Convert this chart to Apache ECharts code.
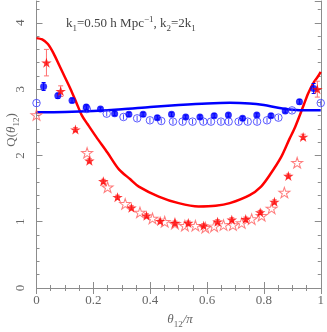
<!DOCTYPE html>
<html>
<head>
<meta charset="utf-8">
<script src="https://cdn.jsdelivr.net/npm/echarts@6/dist/echarts.min.js"></script>
<style>
  html, body { margin: 0; padding: 0; background: #fff; }
  #chart { width: 327px; height: 332px; }
</style>
</head>
<body>
<div id="chart"></div>
<script>
// model curves
const redCurveX = [0, 0.02, 0.04, 0.06, 0.08, 0.10, 0.12, 0.14, 0.16, 0.18, 0.21, 0.25, 0.29, 0.33, 0.36, 0.43, 0.50, 0.57, 0.63, 0.68, 0.75, 0.79, 0.82, 0.86, 0.89, 0.91, 0.94, 0.956, 0.975, 0.99, 1.0]
const redCurveY = [3.77, 3.75, 3.68, 3.54, 3.36, 3.18, 3.00, 2.80, 2.60, 2.47, 2.28, 2.04, 1.79, 1.64, 1.53, 1.38, 1.28, 1.23, 1.24, 1.28, 1.40, 1.53, 1.70, 1.97, 2.25, 2.43, 2.76, 2.94, 3.10, 3.19, 3.26]
const blueCurveX = [0, 0.1, 0.2, 0.3, 0.4, 0.5, 0.6, 0.68, 0.75, 0.8, 0.85, 0.9, 0.95, 1.0]
const blueCurveY = [2.65, 2.655, 2.67, 2.695, 2.73, 2.76, 2.785, 2.795, 2.785, 2.76, 2.72, 2.69, 2.68, 2.68]

// blue filled circles
const blueFillX = [0.025, 0.075, 0.125, 0.175, 0.225, 0.275, 0.325, 0.375, 0.425, 0.475, 0.525, 0.575, 0.625, 0.675, 0.725, 0.775, 0.825, 0.875, 0.925, 0.975]
const blueFillY = [3.04, 2.90, 2.83, 2.73, 2.70, 2.63, 2.62, 2.62, 2.57, 2.62, 2.58, 2.58, 2.60, 2.61, 2.56, 2.61, 2.60, 2.67, 2.81, 3.01]
const blueFillErr = [0.06, 0.04, 0.035, 0.035, 0.03, 0.03, 0.03, 0.03, 0.03, 0.03, 0.03, 0.03, 0.03, 0.03, 0.03, 0.03, 0.03, 0.03, 0.035, 0.075]

// blue open circles
const blueOpenX = [0, 0.177, 0.247, 0.306, 0.354, 0.399, 0.439, 0.48, 0.514, 0.549, 0.587, 0.614, 0.649, 0.676, 0.711, 0.743, 0.776, 0.811, 0.851, 0.899, 1.0]
const blueOpenY = [2.79, 2.70, 2.63, 2.58, 2.56, 2.53, 2.52, 2.51, 2.51, 2.51, 2.51, 2.51, 2.51, 2.51, 2.51, 2.51, 2.51, 2.53, 2.57, 2.68, 2.79]

// red filled stars
const redFillX = [0.035, 0.085, 0.137, 0.186, 0.235, 0.285, 0.334, 0.387, 0.435, 0.487, 0.534, 0.588, 0.637, 0.687, 0.736, 0.787, 0.837, 0.886, 0.938, 0.988]
const redFillY = [3.40, 2.97, 2.39, 1.92, 1.61, 1.37, 1.21, 1.09, 1.01, 0.98, 0.98, 0.94, 1.00, 1.03, 1.04, 1.14, 1.30, 1.69, 2.28, 3.00]
const redFillErr = [0.20, 0.08, 0.03, 0.03, 0.03, 0.03, 0.03, 0.03, 0.03, 0.03, 0.03, 0.03, 0.03, 0.03, 0.03, 0.03, 0.03, 0.03, 0.04, 0.12]

// red open stars
const redOpenX = [0, 0.178, 0.25, 0.312, 0.364, 0.408, 0.451, 0.487, 0.522, 0.559, 0.594, 0.625, 0.658, 0.691, 0.722, 0.757, 0.792, 0.827, 0.872, 0.917]
const redOpenY = [2.61, 2.04, 1.52, 1.27, 1.14, 1.05, 1.00, 0.97, 0.94, 0.94, 0.91, 0.93, 0.95, 0.95, 0.98, 1.04, 1.09, 1.20, 1.44, 1.89]

const yMax = 4.33
const axisGray = '#8c8c8c'
const labelGray = '#666'
const serif = 'Liberation Serif'
const star = 'path://M0 -100L22.45 -30.9L95.1 -30.9L36.3 11.8L58.8 80.9L0 38.2L-58.8 80.9L-36.3 11.8L-95.1 -30.9L-22.45 -30.9Z'

const zip = (xs, ys) => xs.map((x, i) => [x, ys[i]])

function errorBars (xs, ys, errs, color, cap) {
  return {
    type: 'custom',
    silent: true,
    z: 3,
    data: xs.map((x, i) => [x, ys[i] - errs[i], ys[i] + errs[i]]),
    encode: { x: 0, y: [1, 2] },
    renderItem: (params, api) => {
      const lo = api.coord([api.value(0), api.value(1)])
      const hi = api.coord([api.value(0), api.value(2)])
      const style = { stroke: color, lineWidth: 1 }
      const kids = [{ type: 'line', shape: { x1: lo[0], y1: lo[1], x2: hi[0], y2: hi[1] }, style }]
      if (cap) {
        kids.push({ type: 'line', shape: { x1: lo[0] - cap, y1: lo[1], x2: lo[0] + cap, y2: lo[1] }, style })
        kids.push({ type: 'line', shape: { x1: hi[0] - cap, y1: hi[1], x2: hi[0] + cap, y2: hi[1] }, style })
      }
      return { type: 'group', children: kids }
    },
  }
}

function yAxisDef (position, major) {
  return {
    type: 'value', position, min: 0, max: yMax,
    interval: major ? 1 : 0.2,
    axisLine: { show: major, lineStyle: { color: axisGray, width: 1 } },
    axisTick: { inside: true, length: major ? 6 : 3, lineStyle: { color: axisGray } },
    axisLabel: {
      show: major && position === 'left', rotate: 90, margin: 9, showMaxLabel: false,
      color: labelGray, fontFamily: serif, fontSize: 13,
    },
    splitLine: { show: false },
  }
}

function xAxisDef (position) {
  return {
    type: 'value', position, min: 0, max: 1, interval: 0.2,
    axisLine: { lineStyle: { color: axisGray, width: 1 } },
    axisTick: { inside: true, length: 6, lineStyle: { color: axisGray } },
    minorTick: { show: true, splitNumber: 4, length: 3, lineStyle: { color: axisGray } },
    axisLabel: {
      show: position === 'bottom', margin: 6,
      color: labelGray, fontFamily: serif, fontSize: 13,
      formatter: (v) => String(+v.toFixed(1)),
    },
    splitLine: { show: false },
  }
}

const chart = echarts.init(document.getElementById('chart'))

chart.setOption({
  animation: false,
  grid: { left: 36.5, right: 4.3, top: 1, bottom: 44 },
  xAxis: [xAxisDef('bottom'), xAxisDef('top')],
  yAxis: [yAxisDef('left', true), yAxisDef('left', false), yAxisDef('right', true), yAxisDef('right', false)],
  graphic: [
    {
      type: 'text', left: 66, top: 15,
      style: {
        text: '{t|k}{s|1}{t|=0.50 h Mpc}{p|\u22121}{t|, k}{s|2}{t|=2k}{s|1}',
        rich: {
          t: { fontFamily: serif, fontSize: 13, fill: '#444', lineHeight: 18, verticalAlign: 'middle' },
          s: { fontFamily: serif, fontSize: 9, fill: '#444', lineHeight: 9, verticalAlign: 'bottom' },
          p: { fontFamily: serif, fontSize: 9, fill: '#444', lineHeight: 9, verticalAlign: 'top' },
        },
      },
    },
    {
      type: 'text', x: 180, y: 320,
      style: {
        text: '{i|\u03b8}{s|12}{t|/\u03c0}',
        align: 'center', verticalAlign: 'middle',
        rich: {
          i: { fontFamily: serif, fontStyle: 'italic', fontSize: 13, fill: labelGray, lineHeight: 18, verticalAlign: 'middle' },
          t: { fontFamily: serif, fontStyle: 'italic', fontSize: 13, fill: labelGray, lineHeight: 18, verticalAlign: 'middle' },
          s: { fontFamily: serif, fontSize: 9, fill: labelGray, lineHeight: 9, verticalAlign: 'bottom' },
        },
      },
    },
    {
      type: 'text', x: 12, y: 130, rotation: Math.PI / 2,
      style: {
        text: '{t|Q(}{i|\u03b8}{s|12}{t|)}',
        align: 'center', verticalAlign: 'middle',
        rich: {
          t: { fontFamily: serif, fontSize: 13, fill: labelGray, lineHeight: 18, verticalAlign: 'middle' },
          i: { fontFamily: serif, fontStyle: 'italic', fontSize: 13, fill: labelGray, lineHeight: 18, verticalAlign: 'middle' },
          s: { fontFamily: serif, fontSize: 9, fill: labelGray, lineHeight: 9, verticalAlign: 'bottom' },
        },
      },
    },
  ],
  series: [
    {
      type: 'line', data: zip(redCurveX, redCurveY), smooth: 0.3, showSymbol: false, z: 2,
      lineStyle: { color: '#ff0000', width: 2.5 },
    },
    {
      type: 'line', data: zip(blueCurveX, blueCurveY), smooth: 0.3, showSymbol: false, z: 2,
      lineStyle: { color: '#0000ff', width: 2.5 },
    },
    errorBars(blueOpenX, blueOpenY, blueOpenX.map(() => 0.04), '#4d4dff', 0),
    {
      type: 'scatter', data: zip(blueOpenX, blueOpenY), symbol: 'circle', symbolSize: 7.5, z: 4,
      itemStyle: { color: 'transparent', borderColor: '#3333ff', borderWidth: 1 },
    },
    errorBars(blueFillX, blueFillY, blueFillErr, '#0000ff', 2),
    {
      type: 'scatter', data: zip(blueFillX, blueFillY), symbol: 'circle', symbolSize: 7, z: 5,
      itemStyle: { color: '#0000ff' },
    },
    {
      type: 'scatter', data: zip(redOpenX, redOpenY), symbol: star, symbolSize: [11, 10.5], z: 4,
      itemStyle: { color: 'transparent', borderColor: '#ff5c5c', borderWidth: 1 },
    },
    errorBars(redFillX, redFillY, redFillErr, '#ff7070', 2.5),
    {
      type: 'scatter', data: zip(redFillX, redFillY), symbol: star, symbolSize: [10.5, 10], z: 5,
      itemStyle: { color: '#ff0000' },
    },
  ],
})
</script>
</body>
</html>
